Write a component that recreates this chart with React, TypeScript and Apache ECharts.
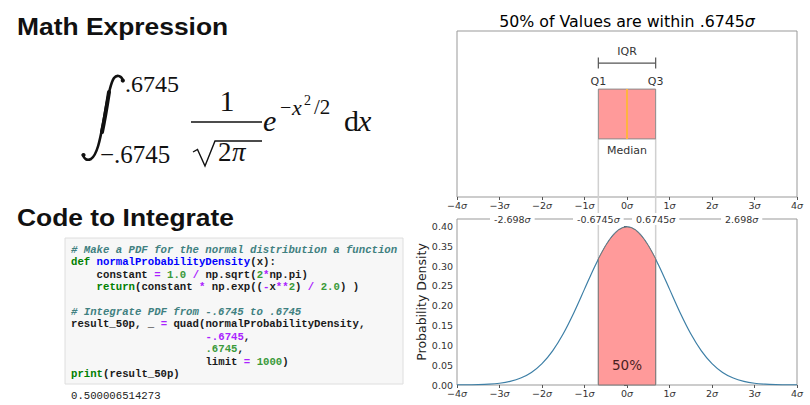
import React, { useEffect, useRef } from "react";
import * as echarts from "echarts";

// ---------------- data ----------------
const xTicks = [-4, -3, -2, -1, 0, 1, 2, 3, 4];
const xTickLabels = ["−4", "−3", "−2", "−1", "0", "1", "2", "3", "4"];
const yTicks = [0, 0.05, 0.1, 0.15, 0.2, 0.25, 0.3, 0.35, 0.4];
const secondaryTicks = [-2.698, -0.6745, 0.6745, 2.698];
const secondaryLabels = ["-2.698", "-0.6745", "0.6745", "2.698"];

const boxQ1 = -0.6745;
const boxMedian = 0;
const boxQ3 = 0.6745;

const curveX = [
  -4, -3.75, -3.5, -3.25, -3, -2.75, -2.5, -2.25, -2, -1.75, -1.5, -1.25, -1, -0.75, -0.5, -0.25, 0,
  0.25, 0.5, 0.75, 1, 1.25, 1.5, 1.75, 2, 2.25, 2.5, 2.75, 3, 3.25, 3.5, 3.75, 4,
];
const curveY = [
  0.0001, 0.0004, 0.0009, 0.002, 0.0044, 0.0091, 0.0175, 0.0317, 0.054, 0.0863, 0.1295, 0.1826, 0.242,
  0.3011, 0.3521, 0.3867, 0.3989, 0.3867, 0.3521, 0.3011, 0.242, 0.1826, 0.1295, 0.0863, 0.054, 0.0317,
  0.0175, 0.0091, 0.0044, 0.002, 0.0009, 0.0004, 0.0001,
];
const shadeX = [-0.6745, -0.6, -0.5, -0.4, -0.3, -0.2, -0.1, 0, 0.1, 0.2, 0.3, 0.4, 0.5, 0.6, 0.6745];
const shadeY = [0.318, 0.333, 0.352, 0.368, 0.381, 0.391, 0.397, 0.399, 0.397, 0.391, 0.381, 0.368, 0.352, 0.333, 0.318];
const shadeLabel = "50%";

const chartTitle = "50% of Values are within .6745";
const yAxisName = "Probability Density";

type Tok = [string, string];
const codeLines: Tok[][] = [
  [["c", "# Make a PDF for the normal distribution a function"]],
  [["k", "def"], ["t", " "], ["f", "normalProbabilityDensity"], ["t", "(x):"]],
  [["t", "    constant "], ["o", "="], ["t", " "], ["n", "1.0"], ["t", " "], ["o", "/"], ["t", " np.sqrt("], ["n", "2"], ["o", "*"], ["t", "np.pi)"]],
  [["t", "    "], ["k", "return"], ["t", "(constant "], ["o", "*"], ["t", " np.exp(("], ["o", "-"], ["t", "x"], ["o", "**"], ["n", "2"], ["t", ") "], ["o", "/"], ["t", " "], ["n", "2.0"], ["t", ") )"]],
  [],
  [["c", "# Integrate PDF from -.6745 to .6745"]],
  [["t", "result_50p, _ "], ["o", "="], ["t", " quad(normalProbabilityDensity,"]],
  [["t", "                     "], ["o", "-.6745"], ["t", ","]],
  [["t", "                     "], ["n", ".6745"], ["t", ","]],
  [["t", "                     limit "], ["o", "="], ["t", " "], ["n", "1000"], ["t", ")"]],
  [["k", "print"], ["t", "(result_50p)"]],
];
const codeOutput = "0.500006514273";

// ---------------- layout / style ----------------
const TOP = { left: 457, top: 31, width: 340, height: 166 };
const BOT = { left: 457, top: 219, width: 340, height: 166 };
const BOX_LOW = 0.35;
const BOX_HIGH = 0.65;
const BRACKET_Y = 0.807;
const Y_MAX = 0.419;

const SANS = "DejaVu Sans";
const SERIF = "Liberation Serif";
const MONO = "Liberation Mono";
const RED = "#ff9a9a";
const TICK_FS = 9.5;

const tokStyle: Record<string, any> = {
  c: { fill: "#408080", fontStyle: "italic" },
  k: { fill: "#008000" },
  f: { fill: "#0000ff" },
  n: { fill: "#3a9a3a" },
  o: { fill: "#aa22ff" },
  t: { fill: "#1a1a1a" },
};

const INTEGRAL_D =
  "M 123 81 C 122 76 117 74 114 78 C 109 85 106 108 103 124 C 100 140 97 155 91 159 C 87 161 84 159 83 155";
const INTEGRAL_MID_D = "M 109 92 C 107 105 105 118 102 132";

function buildCodeElements() {
  const els: any[] = [];
  const x0 = 71;
  const y0 = 250;
  const lh = 12.4;
  const fs = 10.67;
  const cw = fs * 0.6;
  codeLines.forEach((line, i) => {
    let col = 0;
    line.forEach(([cls, txt]) => {
      const lead = txt.length - txt.replace(/^ +/, "").length;
      const body = txt.trim();
      if (body.length) {
        els.push({
          type: "text",
          x: x0 + (col + lead) * cw,
          y: y0 + i * lh,
          z: 5,
          style: {
            text: body,
            fontFamily: MONO,
            fontSize: fs,
            fontWeight: "bold",
            verticalAlign: "middle",
            align: "left",
            ...tokStyle[cls],
          },
        });
      }
      col += txt.length;
    });
  });
  els.push({
    type: "text",
    x: x0,
    y: 396,
    style: { text: codeOutput, fontFamily: MONO, fontSize: 10.67, fill: "#222", verticalAlign: "middle" },
  });
  return els;
}

function sigmaLabel(label: string) {
  return `{n|${label}}{s|σ}`;
}

const labelRich = {
  n: { fontFamily: SANS, fontSize: TICK_FS, color: "#333" },
  s: { fontFamily: SANS, fontSize: TICK_FS, color: "#333", fontStyle: "italic" },
};

export default function App() {
  const ref = useRef<HTMLDivElement>(null);
  useEffect(() => {
    if (!ref.current) return;
    try {
      echarts.graphic.registerShape("integral", echarts.graphic.extendPath(INTEGRAL_D, {}) as any);
      echarts.graphic.registerShape("integralMid", echarts.graphic.extendPath(INTEGRAL_MID_D, {}) as any);
    } catch (e) {}
    const chart = echarts.init(ref.current, undefined, { renderer: "svg" });

    const tickAxis = (gridIndex: number) => ({
      gridIndex,
      type: "value",
      min: -4,
      max: 4,
      interval: 1,
      position: "bottom",
      axisLine: { show: false },
      axisTick: { show: true, length: 3, lineStyle: { color: "#555" } },
      splitLine: { show: false },
      axisLabel: {
        margin: 3,
        formatter: (v: number) => sigmaLabel(xTickLabels[xTicks.indexOf(Math.round(v))] ?? String(v)),
        rich: labelRich,
      },
    });

    const option: any = {
      animation: false,
      backgroundColor: "#fff",
      grid: [
        { ...TOP, show: true, borderColor: "#999", borderWidth: 1, backgroundColor: "rgba(0,0,0,0)" },
        { ...BOT, show: true, borderColor: "#999", borderWidth: 1, backgroundColor: "rgba(0,0,0,0)" },
      ],
      xAxis: [
        tickAxis(0),
        tickAxis(1),
        {
          gridIndex: 1,
          type: "value",
          min: -4,
          max: 4,
          position: "top",
          z: 10,
          axisLine: { show: false },
          axisTick: { show: false },
          splitLine: { show: false },
          axisLabel: {
            customValues: secondaryTicks,
            margin: -6,
            backgroundColor: "#fff",
            padding: [1, 4],
            formatter: (v: number) => {
              const idx = secondaryTicks.findIndex((t) => Math.abs(t - v) < 1e-6);
              return sigmaLabel(idx >= 0 ? secondaryLabels[idx] : String(v));
            },
            rich: labelRich,
          },
        },
      ],
      yAxis: [
        {
          gridIndex: 0,
          type: "value",
          min: 0,
          max: 1,
          axisLine: { show: false },
          axisTick: { show: false },
          axisLabel: { show: false },
          splitLine: { show: false },
        },
        {
          gridIndex: 1,
          type: "value",
          min: 0,
          max: Y_MAX,
          axisLine: { show: false },
          axisTick: { show: true, length: 3, customValues: yTicks, lineStyle: { color: "#555" } },
          axisLabel: {
            customValues: yTicks,
            margin: 4,
            formatter: (v: number) => v.toFixed(2),
            fontFamily: SANS,
            fontSize: TICK_FS,
            color: "#333",
          },
          splitLine: { show: false },
          name: yAxisName,
          nameLocation: "middle",
          nameGap: 19,
          nameTextStyle: { fontFamily: SANS, fontSize: 12.5, color: "#222" },
        },
      ],
      series: [
        {
          type: "custom",
          xAxisIndex: 0,
          yAxisIndex: 0,
          z: 1,
          data: [[boxQ1], [boxQ3]],
          renderItem: (params: any, api: any) => {
            const x = api.value(0);
            const p0 = api.coord([x, BOX_LOW]);
            const pBase = api.coord([x, 0]);
            const yEnd = pBase[1] + (BOT.top - (TOP.top + TOP.height)) + BOT.height;
            return {
              type: "line",
              shape: { x1: p0[0], y1: p0[1], x2: p0[0], y2: yEnd },
              style: { stroke: "#d0d0d0", lineWidth: 1.5 },
            };
          },
        },
        {
          type: "custom",
          xAxisIndex: 0,
          yAxisIndex: 0,
          z: 4,
          data: [[boxQ1, boxQ3, boxMedian]],
          renderItem: (params: any, api: any) => {
            const q1 = api.value(0);
            const q3 = api.value(1);
            const med = api.value(2);
            const tl = api.coord([q1, BOX_HIGH]);
            const br = api.coord([q3, BOX_LOW]);
            const mt = api.coord([med, BOX_HIGH]);
            const mb = api.coord([med, BOX_LOW]);
            const bl = api.coord([q1, BRACKET_Y]);
            const brr = api.coord([q3, BRACKET_Y]);
            const ink = { stroke: "#555", lineWidth: 1.2 };
            const txt = (text: string, x: number, y: number) => ({
              type: "text",
              x,
              y,
              style: { text, align: "center", verticalAlign: "middle", fontFamily: SANS, fontSize: 11, fill: "#333" },
            });
            return {
              type: "group",
              children: [
                {
                  type: "rect",
                  shape: { x: tl[0], y: tl[1], width: br[0] - tl[0], height: br[1] - tl[1] },
                  style: { fill: RED, stroke: "#8a8a8a", lineWidth: 1 },
                },
                { type: "line", shape: { x1: mt[0], y1: mt[1], x2: mb[0], y2: mb[1] }, style: { stroke: "#ffb340", lineWidth: 2 } },
                { type: "line", shape: { x1: bl[0], y1: bl[1], x2: brr[0], y2: brr[1] }, style: ink },
                { type: "line", shape: { x1: bl[0], y1: bl[1] - 5.5, x2: bl[0], y2: bl[1] + 5.5 }, style: ink },
                { type: "line", shape: { x1: brr[0], y1: brr[1] - 5.5, x2: brr[0], y2: brr[1] + 5.5 }, style: ink },
                txt("IQR", (bl[0] + brr[0]) / 2, bl[1] - 11.5),
                txt("Q1", tl[0], tl[1] - 8),
                txt("Q3", br[0], tl[1] - 8),
                txt("Median", mb[0], br[1] + 12),
              ],
            };
          },
        },
        {
          type: "line",
          xAxisIndex: 1,
          yAxisIndex: 1,
          z: 2,
          smooth: 0.3,
          showSymbol: false,
          symbol: "none",
          data: curveX.map((x, i) => [x, curveY[i]]),
          lineStyle: { color: "#3d7fa6", width: 1.2 },
        },
        {
          type: "custom",
          xAxisIndex: 1,
          yAxisIndex: 1,
          z: 3,
          data: shadeX.map((x, i) => [x, shadeY[i]]),
          renderItem: (params: any, api: any) => {
            if (params.dataIndex !== 0) return null;
            const pts = shadeX.map((x, i) => api.coord([x, shadeY[i]]));
            const base1 = api.coord([shadeX[shadeX.length - 1], 0]);
            const base0 = api.coord([shadeX[0], 0]);
            const lbl = api.coord([0, 0.05]);
            return {
              type: "group",
              children: [
                {
                  type: "polygon",
                  shape: { points: [...pts, base1, base0] },
                  style: { fill: RED, stroke: "#777", lineWidth: 1 },
                },
                {
                  type: "text",
                  x: lbl[0],
                  y: lbl[1],
                  style: { text: shadeLabel, align: "center", verticalAlign: "middle", fontFamily: SANS, fontSize: 13.5, fill: "#4a1f1f" },
                },
              ],
            };
          },
        },
      ],
      graphic: {
        elements: [
          {
            type: "text",
            x: 627,
            y: 21,
            style: {
              text: `{a|${chartTitle}}{b|σ}`,
              align: "center",
              verticalAlign: "middle",
              rich: {
                a: { fontFamily: SANS, fontSize: 15.8, color: "#222" },
                b: { fontFamily: SANS, fontSize: 15.8, color: "#222", fontStyle: "italic" },
              },
            },
          },
          {
            type: "text",
            x: 17,
            y: 26,
            scaleX: 1.1,
            style: { text: "Math Expression", fontFamily: "Liberation Sans", fontWeight: "bold", fontSize: 24, fill: "#111", verticalAlign: "middle" },
          },
          {
            type: "text",
            x: 17,
            y: 217,
            scaleX: 1.1,
            style: { text: "Code to Integrate", fontFamily: "Liberation Sans", fontWeight: "bold", fontSize: 24, fill: "#111", verticalAlign: "middle" },
          },
          // integral sign
          {
            type: "integral",
            x: 0,
            y: 0,
            style: { stroke: "#111", fill: "none", lineWidth: 2.6, lineCap: "round" },
          },
          {
            type: "integralMid",
            x: 0,
            y: 0,
            style: { stroke: "#111", fill: "none", lineWidth: 4, lineCap: "round" },
          },
          { type: "circle", shape: { cx: 122.8, cy: 80.5, r: 2.1 }, style: { fill: "#111" } },
          { type: "circle", shape: { cx: 83.5, cy: 155, r: 2.1 }, style: { fill: "#111" } },
          { type: "text", x: 125, y: 84, style: { text: ".6745", fontFamily: SERIF, fontSize: 24, fill: "#111", verticalAlign: "middle" } },
          { type: "text", x: 100, y: 154, style: { text: "−.6745", fontFamily: SERIF, fontSize: 25, fill: "#111", verticalAlign: "middle" } },
          { type: "text", x: 227, y: 100, style: { text: "1", fontFamily: SERIF, fontSize: 30, fill: "#111", align: "center", verticalAlign: "middle" } },
          { type: "line", shape: { x1: 191, y1: 122, x2: 262, y2: 122 }, style: { stroke: "#111", lineWidth: 1.4 } },
          {
            type: "polyline",
            shape: { points: [[193, 152], [197.5, 149.5], [205, 166], [215, 141], [262, 141]] },
            style: { stroke: "#111", lineWidth: 1.4, fill: "none" },
          },
          { type: "text", x: 218, y: 152, style: { text: "2", fontFamily: SERIF, fontSize: 27, fill: "#111", verticalAlign: "middle" } },
          { type: "text", x: 232, y: 152, style: { text: "π", fontFamily: SERIF, fontSize: 27, fontStyle: "italic", fill: "#111", verticalAlign: "middle" } },
          { type: "text", x: 263, y: 120, style: { text: "e", fontFamily: SERIF, fontSize: 30, fontStyle: "italic", fill: "#111", verticalAlign: "middle" } },
          { type: "text", x: 280, y: 107, style: { text: "−", fontFamily: SERIF, fontSize: 20, fill: "#111", verticalAlign: "middle" } },
          { type: "text", x: 292, y: 107, style: { text: "x", fontFamily: SERIF, fontSize: 22, fontStyle: "italic", fill: "#111", verticalAlign: "middle" } },
          { type: "text", x: 304, y: 100, style: { text: "2", fontFamily: SERIF, fontSize: 14, fill: "#111", verticalAlign: "middle" } },
          { type: "text", x: 314, y: 107, style: { text: "/2", fontFamily: SERIF, fontSize: 21, fill: "#111", verticalAlign: "middle" } },
          { type: "text", x: 344, y: 120, style: { text: "d", fontFamily: SERIF, fontSize: 30, fill: "#111", verticalAlign: "middle" } },
          { type: "text", x: 358, y: 120, style: { text: "x", fontFamily: SERIF, fontSize: 30, fontStyle: "italic", fill: "#111", verticalAlign: "middle" } },
          // code cell
          {
            type: "rect",
            shape: { x: 65, y: 238, width: 338, height: 146 },
            style: { fill: "#f7f7f7", stroke: "#dedede", lineWidth: 1 },
          },
          ...buildCodeElements(),
        ],
      },
    };
    chart.setOption(option);
    return () => chart.dispose();
  }, []);
  return <div ref={ref} style={{ position: "absolute", left: 0, top: 0, width: 810, height: 405 }} />;
}
